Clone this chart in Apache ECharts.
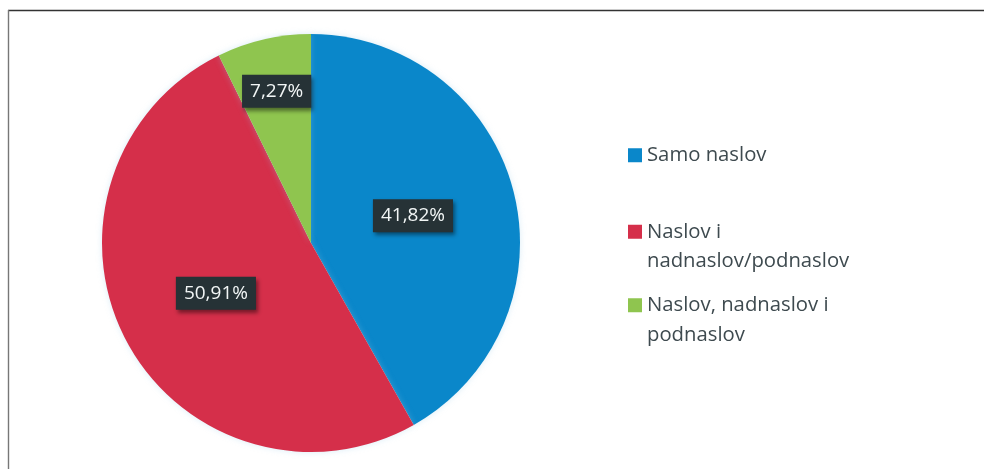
<!DOCTYPE html>
<html>
<head>
<meta charset="utf-8">
<script src="https://cdn.jsdelivr.net/npm/echarts@6/dist/echarts.min.js"></script>
<style>
html,body{margin:0;padding:0;background:#fff;}
#main{width:985px;height:469px;}
</style>
</head>
<body>
<div id="main"></div>
<script>
var categories = ['Samo naslov', 'Naslov i nadnaslov/podnaslov', 'Naslov, nadnaslov i podnaslov'];
var legendLabels = ['Samo naslov', 'Naslov i\nnadnaslov/podnaslov', 'Naslov, nadnaslov i\npodnaslov'];
var values = [41.82, 50.91, 7.27];
var valueLabels = ['41,82%', '50,91%', '7,27%'];
var colors = ['#0A87CA', '#D52F4A', '#8FC54F'];

var chart = echarts.init(document.getElementById('main'), null, {renderer: 'canvas'});

var data = categories.map(function (c, i) {
  return {name: c, value: values[i], itemStyle: {color: colors[i]}};
});

var fontFam = '"Open Sans", "DejaVu Sans", sans-serif';
var legendTops = [140.5, 187.5, 261];
var legends = categories.map(function (c, i) {
  var multi = legendLabels[i].indexOf('\n') >= 0;
  return {
    data: [c],
    orient: 'vertical',
    left: 628,
    top: legendTops[i],
    padding: 0,
    itemWidth: 14,
    itemHeight: 14,
    icon: 'rect',
    selectedMode: false,
    formatter: function () { return (multi ? '\n' : '') + legendLabels[i]; },
    textStyle: {
      fontFamily: fontFam,
      fontSize: 20.3,
      color: '#3E4A4F',
      lineHeight: 29.5
    }
  };
});

chart.setOption({
  animation: false,
  backgroundColor: '#ffffff',
  legend: legends,
  graphic: [
    {type: 'line', shape: {x1: 8, y1: 10.5, x2: 984, y2: 10.5}, style: {stroke: '#333', lineWidth: 1.6}, silent: true},
    {type: 'line', shape: {x1: 8.5, y1: 10, x2: 8.5, y2: 469}, style: {stroke: '#777', lineWidth: 1.4}, silent: true}
  ],
  series: [{
    type: 'pie',
    center: [311, 243],
    radius: 209,
    startAngle: 90,
    clockwise: true,
    data: data,
    itemStyle: {
      shadowBlur: 6,
      shadowColor: 'rgba(150,200,230,0.35)'
    },
    emphasis: {disabled: true},
    label: {
      show: true,
      position: 'inside',
      formatter: function (p) { return valueLabels[p.dataIndex]; },
      fontFamily: fontFam,
      fontSize: 19,
      lineHeight: 20,
      color: '#F2F6F6',
      backgroundColor: '#263236',
      padding: [7, 8, 6, 8],
      shadowBlur: 4,
      shadowOffsetX: 2,
      shadowOffsetY: 3,
      shadowColor: 'rgba(0,0,0,0.45)'
    },
    labelLayout: function (p) {
      if (p.dataIndex === 2) return {dx: -10, dy: -47};
      if (p.dataIndex === 0) return {dx: -2};
      return {};
    },
    labelLine: {show: false}
  }]
});
</script>
</body>
</html>
